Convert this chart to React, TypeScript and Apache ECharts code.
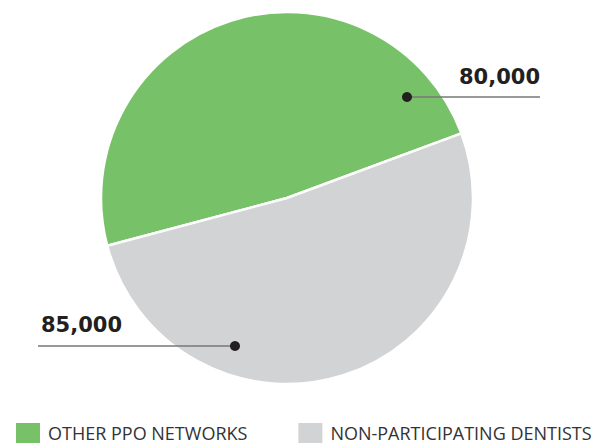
import React, { useEffect, useRef } from "react";
import * as echarts from "echarts";

const categories = ["OTHER PPO NETWORKS", "NON-PARTICIPATING DENTISTS"];
const values = [80000, 85000];
const valueLabels = ["80,000", "85,000"];
const colors = ["#77c268", "#d2d3d5"];

export default function App() {
  const ref = useRef<HTMLDivElement>(null);
  useEffect(() => {
    document.body.style.margin = "0";
    if (!ref.current) return;
    const chart = echarts.init(ref.current, null, { renderer: "svg" });
    const font = "'Open Sans', sans-serif";
    const boldFont = "'DejaVu Sans', 'Open Sans', sans-serif";
    chart.setOption({
      animation: false,
      backgroundColor: "#ffffff",
      legend: {
        data: categories,
        left: 14,
        top: 421,
        padding: 0,
        icon: "rect",
        itemWidth: 26,
        itemHeight: 22,
        itemGap: 49,
        selectedMode: false,
        textStyle: { fontSize: 18, lineHeight: 18, color: "#333333", fontFamily: font, padding: [0, 0, 0, 2] },
      },
      series: [
        {
          type: "pie",
          center: [287, 198],
          radius: [0, 186],
          startAngle: 194.9,
          clockwise: true,
          label: { show: false },
          labelLine: { show: false },
          itemStyle: { borderColor: "#ffffff", borderWidth: 2.5 },
          emphasis: { disabled: true },
          data: categories.map((c, i) => ({ name: c, value: values[i], itemStyle: { color: colors[i] } })),
        },
      ],
      graphic: [
        { type: "line", shape: { x1: 407, y1: 97, x2: 540, y2: 97 }, style: { stroke: "#777777", lineWidth: 1.5 }, z: 10 },
        { type: "circle", shape: { cx: 407, cy: 97, r: 5 }, style: { fill: "#231f20" }, z: 11 },
        { type: "text", x: 540, y: 77, style: { text: valueLabels[0], fill: "#231f20", font: `bold 21px ${boldFont}`, textAlign: "right", textVerticalAlign: "middle" }, z: 11 },
        { type: "line", shape: { x1: 38, y1: 346, x2: 235, y2: 346 }, style: { stroke: "#777777", lineWidth: 1.5 }, z: 10 },
        { type: "circle", shape: { cx: 235, cy: 346, r: 5 }, style: { fill: "#231f20" }, z: 11 },
        { type: "text", x: 41, y: 325, style: { text: valueLabels[1], fill: "#231f20", font: `bold 21px ${boldFont}`, textAlign: "left", textVerticalAlign: "middle" }, z: 11 },
      ],
    });
    return () => chart.dispose();
  }, []);
  return <div ref={ref} style={{ width: 604, height: 446 }} />;
}
